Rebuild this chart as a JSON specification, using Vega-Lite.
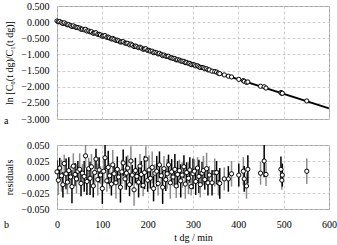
{
  "$schema": "https://vega.github.io/schema/vega-lite/v6.json",
  "padding": {"left": 3, "top": 0, "right": 5, "bottom": 0},
  "background": "white",
  "datasets": {
    "pts": [
      {"t":0,"ln":0.038,"r":0.008,"e":0.018,"g":"k"},
      {"t":3,"ln":0.012,"r":-0.005,"e":0.023,"g":"g"},
      {"t":6,"ln":0.017,"r":0.014,"e":0.016,"g":"k"},
      {"t":10,"ln":-0.013,"r":0.002,"e":0.025,"g":"g"},
      {"t":13,"ln":-0.041,"r":-0.012,"e":0.020,"g":"k"},
      {"t":16,"ln":-0.021,"r":0.021,"e":0.014,"g":"g"},
      {"t":20,"ln":-0.055,"r":0.005,"e":0.024,"g":"k"},
      {"t":23,"ln":-0.082,"r":-0.008,"e":0.019,"g":"g"},
      {"t":26,"ln":-0.077,"r":0.010,"e":0.021,"g":"k"},
      {"t":30,"ln":-0.105,"r":0,"e":0.017,"g":"g"},
      {"t":33,"ln":-0.134,"r":-0.015,"e":0.026,"g":"k"},
      {"t":36,"ln":-0.115,"r":0.017,"e":0.020,"g":"g"},
      {"t":40,"ln":-0.146,"r":0.004,"e":0.018,"g":"k"},
      {"t":43,"ln":-0.167,"r":-0.003,"e":0.023,"g":"g"},
      {"t":46,"ln":-0.168,"r":0.009,"e":0.016,"g":"k"},
      {"t":50,"ln":-0.183,"r":0.012,"e":0.025,"g":"g"},
      {"t":53,"ln":-0.219,"r":-0.010,"e":0.020,"g":"k"},
      {"t":56,"ln":-0.216,"r":0.006,"e":0.014,"g":"g"},
      {"t":60,"ln":-0.239,"r":0.001,"e":0.024,"g":"k"},
      {"t":63,"ln":-0.221,"r":0.033,"e":0.019,"g":"g"},
      {"t":66,"ln":-0.274,"r":-0.007,"e":0.021,"g":"k"},
      {"t":70,"ln":-0.272,"r":0.013,"e":0.017,"g":"g"},
      {"t":73,"ln":-0.301,"r":-0.002,"e":0.026,"g":"k"},
      {"t":76,"ln":-0.296,"r":0.016,"e":0.020,"g":"g"},
      {"t":80,"ln":-0.344,"r":-0.014,"e":0.018,"g":"k"},
      {"t":83,"ln":-0.337,"r":0.007,"e":0.023,"g":"g"},
      {"t":86,"ln":-0.329,"r":0.028,"e":0.016,"g":"k"},
      {"t":90,"ln":-0.379,"r":-0.004,"e":0.025,"g":"g"},
      {"t":93,"ln":-0.378,"r":0.011,"e":0.020,"g":"k"},
      {"t":96,"ln":-0.399,"r":0.003,"e":0.014,"g":"g"},
      {"t":100,"ln":-0.438,"r":-0.018,"e":0.024,"g":"k"},
      {"t":103,"ln":-0.425,"r":0.009,"e":0.019,"g":"g"},
      {"t":106,"ln":-0.417,"r":0.030,"e":0.021,"g":"k"},
      {"t":110,"ln":-0.471,"r":-0.006,"e":0.017,"g":"g"},
      {"t":113,"ln":-0.464,"r":0.015,"e":0.026,"g":"k"},
      {"t":116,"ln":-0.490,"r":0.002,"e":0.020,"g":"g"},
      {"t":120,"ln":-0.521,"r":-0.011,"e":0.018,"g":"k"},
      {"t":123,"ln":-0.505,"r":0.019,"e":0.023,"g":"g"},
      {"t":126,"ln":-0.532,"r":0.005,"e":0.016,"g":"k"},
      {"t":130,"ln":-0.564,"r":-0.009,"e":0.025,"g":"g"},
      {"t":133,"ln":-0.557,"r":0.012,"e":0.020,"g":"k"},
      {"t":136,"ln":-0.582,"r":0,"e":0.014,"g":"g"},
      {"t":140,"ln":-0.616,"r":-0.016,"e":0.024,"g":"k"},
      {"t":143,"ln":-0.606,"r":0.008,"e":0.019,"g":"g"},
      {"t":146,"ln":-0.605,"r":0.022,"e":0.021,"g":"k"},
      {"t":150,"ln":-0.648,"r":-0.003,"e":0.017,"g":"g"},
      {"t":153,"ln":-0.653,"r":0.006,"e":0.026,"g":"k"},
      {"t":156,"ln":-0.658,"r":0.014,"e":0.020,"g":"g"},
      {"t":160,"ln":-0.702,"r":-0.012,"e":0.018,"g":"k"},
      {"t":163,"ln":-0.679,"r":0.025,"e":0.023,"g":"g"},
      {"t":166,"ln":-0.714,"r":0.003,"e":0.016,"g":"k"},
      {"t":170,"ln":-0.755,"r":-0.020,"e":0.025,"g":"g"},
      {"t":173,"ln":-0.739,"r":0.010,"e":0.020,"g":"k"},
      {"t":176,"ln":-0.761,"r":0.001,"e":0.014,"g":"g"},
      {"t":180,"ln":-0.788,"r":-0.008,"e":0.024,"g":"k"},
      {"t":183,"ln":-0.777,"r":0.017,"e":0.019,"g":"g"},
      {"t":186,"ln":-0.803,"r":0.004,"e":0.021,"g":"k"},
      {"t":190,"ln":-0.838,"r":-0.013,"e":0.017,"g":"g"},
      {"t":193,"ln":-0.832,"r":0.007,"e":0.026,"g":"k"},
      {"t":196,"ln":-0.824,"r":0.028,"e":0.020,"g":"g"},
      {"t":200,"ln":-0.875,"r":-0.005,"e":0.018,"g":"k"},
      {"t":203,"ln":-0.873,"r":0.011,"e":0.023,"g":"g"},
      {"t":206,"ln":-0.899,"r":-0.002,"e":0.016,"g":"k"},
      {"t":210,"ln":-0.900,"r":0.015,"e":0.025,"g":"g"},
      {"t":213,"ln":-0.947,"r":-0.018,"e":0.020,"g":"k"},
      {"t":216,"ln":-0.936,"r":0.006,"e":0.014,"g":"g"},
      {"t":220,"ln":-0.951,"r":0.009,"e":0.024,"g":"k"},
      {"t":223,"ln":-0.984,"r":-0.010,"e":0.019,"g":"g"},
      {"t":226,"ln":-0.968,"r":0.019,"e":0.021,"g":"k"},
      {"t":230,"ln":-1.003,"r":0.002,"e":0.017,"g":"g"},
      {"t":233,"ln":-1.035,"r":-0.016,"e":0.026,"g":"k"},
      {"t":236,"ln":-1.019,"r":0.013,"e":0.020,"g":"g"},
      {"t":240,"ln":-1.054,"r":-0.004,"e":0.018,"g":"k"},
      {"t":243,"ln":-1.059,"r":0.005,"e":0.023,"g":"g"},
      {"t":246,"ln":-1.058,"r":0.019,"e":0.016,"g":"k"},
      {"t":250,"ln":-1.104,"r":-0.009,"e":0.025,"g":"g"},
      {"t":253,"ln":-1.101,"r":0.008,"e":0.020,"g":"k"},
      {"t":256,"ln":-1.122,"r":0,"e":0.014,"g":"g"},
      {"t":260,"ln":-1.128,"r":0.012,"e":0.024,"g":"k"},
      {"t":263,"ln":-1.168,"r":-0.014,"e":0.019,"g":"g"},
      {"t":266,"ln":-1.163,"r":0.004,"e":0.021,"g":"k"},
      {"t":270,"ln":-1.175,"r":0.010,"e":0.017,"g":"g"},
      {"t":273,"ln":-1.205,"r":-0.006,"e":0.026,"g":"k"},
      {"t":276,"ln":-1.209,"r":0.003,"e":0.020,"g":"g"},
      {"t":280,"ln":-1.214,"r":0.016,"e":0.018,"g":"k"},
      {"t":283,"ln":-1.255,"r":-0.011,"e":0.023,"g":"g"},
      {"t":286,"ln":-1.250,"r":0.007,"e":0.016,"g":"k"},
      {"t":290,"ln":-1.277,"r":-0.002,"e":0.025,"g":"g"},
      {"t":293,"ln":-1.278,"r":0.011,"e":0.020,"g":"k"},
      {"t":296,"ln":-1.317,"r":-0.015,"e":0.014,"g":"g"},
      {"t":300,"ln":-1.315,"r":0.005,"e":0.024,"g":"k"},
      {"t":303,"ln":-1.325,"r":0.009,"e":0.019,"g":"g"},
      {"t":306,"ln":-1.354,"r":-0.007,"e":0.021,"g":"k"},
      {"t":310,"ln":-1.351,"r":0.014,"e":0.017,"g":"g"},
      {"t":313,"ln":-1.378,"r":0.001,"e":0.026,"g":"k"},
      {"t":316,"ln":-1.404,"r":-0.012,"e":0.020,"g":"g"},
      {"t":320,"ln":-1.404,"r":0.006,"e":0.018,"g":"k"},
      {"t":323,"ln":-1.414,"r":0.010,"e":0.023,"g":"g"},
      {"t":326,"ln":-1.441,"r":-0.004,"e":0.016,"g":"k"},
      {"t":330,"ln":-1.442,"r":0.013,"e":0.025,"g":"g"},
      {"t":333,"ln":-1.478,"r":-0.009,"e":0.020,"g":"k"},
      {"t":336,"ln":-1.479,"r":0.003,"e":0.014,"g":"g"},
      {"t":342,"ln":-1.518,"r":-0.009,"e":0.020,"g":"k"},
      {"t":348,"ln":-1.529,"r":0.007,"e":0.022,"g":"g"},
      {"t":352,"ln":-1.547,"r":0.007,"e":0.018,"g":"k"},
      {"t":356,"ln":-1.581,"r":-0.009,"e":0.020,"g":"g"},
      {"t":359,"ln":-1.596,"r":-0.010,"e":0.024,"g":"k"},
      {"t":369,"ln":-1.634,"r":-0.003,"e":0.018,"g":"g"},
      {"t":378,"ln":-1.674,"r":-0.003,"e":0.020,"g":"k"},
      {"t":385,"ln":-1.698,"r":0.005,"e":0.020,"g":"g"},
      {"t":401,"ln":-1.772,"r":0.003,"e":0.018,"g":"k"},
      {"t":411,"ln":-1.811,"r":0.009,"e":0.022,"g":"g"},
      {"t":413,"ln":-1.832,"r":-0.003,"e":0.020,"g":"k"},
      {"t":418,"ln":-1.865,"r":-0.014,"e":0.020,"g":"g"},
      {"t":421,"ln":-1.853,"r":0.012,"e":0.022,"g":"k"},
      {"t":449,"ln":-1.985,"r":0.006,"e":0.018,"g":"g"},
      {"t":457,"ln":-2.002,"r":0.025,"e":0.025,"g":"k"},
      {"t":461,"ln":-2.041,"r":0.004,"e":0.018,"g":"g"},
      {"t":494,"ln":-2.181,"r":0.012,"e":0.020,"g":"k"},
      {"t":496,"ln":-2.207,"r":-0.005,"e":0.015,"g":"g"},
      {"t":497,"ln":-2.204,"r":0.003,"e":0.018,"g":"k"},
      {"t":551,"ln":-2.441,"r":0.009,"e":0.020,"g":"g"}
    ],
    "fit": [
      {"t":0,"fit":0.03},
      {"t":600,"fit":-2.67}
    ]
  },
  "bounds": "flush",
  "spacing": 26,
  "vconcat": [
    {
      "width": 272,
      "height": 113,
      "title": {"text": "a", "orient": "bottom", "anchor": "start", "frame": "group", "dx": -53, "offset": -8, "baseline": "top", "fontSize": 10, "fontWeight": "normal", "font": "Liberation Serif", "color": "#000"},
      "layer": [
        {
          "data": {"name": "fit"},
          "mark": {"type": "line", "color": "#000", "strokeWidth": 2},
          "encoding": {
            "x": {"field": "t", "type": "quantitative", "scale": {"domain": [0, 600], "nice": false}, "axis": {"values": [0,100,200,300,400,500,600], "tickCount": 20, "labels": false, "title": null, "grid": true}},
            "y": {"field": "fit", "type": "quantitative", "scale": {"domain": [-3, 0.5], "nice": false}, "axis": {"values": [-3,-2.5,-2,-1.5,-1,-0.5,0,0.5], "tickCount": 20, "format": ".3f", "title": "ln [C₀(t dg)/C₁(t dg)]", "labelPadding": 8, "titlePadding": 6, "grid": true, "labelOverlap": false, "labelFlush": false}}
          }
        },
        {
          "data": {"name": "pts"},
          "mark": {"type": "point", "shape": "circle", "filled": true, "fill": "#fff", "stroke": "#000", "strokeWidth": 1, "size": 18, "opacity": 1},
          "encoding": {
            "x": {"field": "t", "type": "quantitative"},
            "y": {"field": "ln", "type": "quantitative"}
          }
        }
      ]
    },
    {
      "width": 272,
      "height": 64,
      "title": {"text": "b", "orient": "bottom", "anchor": "start", "frame": "group", "dx": -53, "offset": -22, "baseline": "top", "fontSize": 10, "fontWeight": "normal", "font": "Liberation Serif", "color": "#000"},
      "data": {"name": "pts"},
      "layer": [
        {
          "mark": {"type": "errorbar", "thickness": 1.5, "clip": true},
          "encoding": {
            "x": {"field": "t", "type": "quantitative", "scale": {"domain": [0, 600], "nice": false}, "axis": {"values": [0,100,200,300,400,500,600], "tickCount": 20, "title": "t dg / min", "labelPadding": 10, "titlePadding": 3, "grid": true, "labelOverlap": false, "labelFlush": false}},
            "y": {"field": "r", "type": "quantitative", "scale": {"domain": [-0.05, 0.05], "nice": false}, "axis": {"values": [-0.05,-0.025,0,0.025,0.05], "tickCount": 20, "format": ".3f", "title": "residuals", "labelPadding": 8, "titlePadding": 6, "grid": true, "labelOverlap": false, "labelFlush": false}},
            "yError": {"field": "e"},
            "color": {"field": "g", "type": "nominal", "scale": {"domain": ["k", "g"], "range": ["#000000", "#8c8c8c"]}, "legend": null}
          }
        },
        {
          "mark": {"type": "point", "shape": "circle", "filled": true, "fill": "#fff", "stroke": "#000", "strokeWidth": 1, "size": 18, "opacity": 1},
          "encoding": {
            "x": {"field": "t", "type": "quantitative"},
            "y": {"field": "r", "type": "quantitative"}
          }
        }
      ]
    }
  ],
  "config": {
    "font": "Liberation Serif",
    "view": {"stroke": "#a0a0a0", "strokeWidth": 1},
    "axis": {
      "labelFont": "Liberation Serif", "labelFontSize": 10, "labelColor": "#000",
      "titleFont": "Liberation Serif", "titleFontSize": 10, "titleFontWeight": "normal", "titleColor": "#000",
      "domain": false, "ticks": false,
      "grid": true, "gridColor": "#c4c4c4", "gridDash": [3, 2], "gridWidth": 0.8
    }
  }
}
